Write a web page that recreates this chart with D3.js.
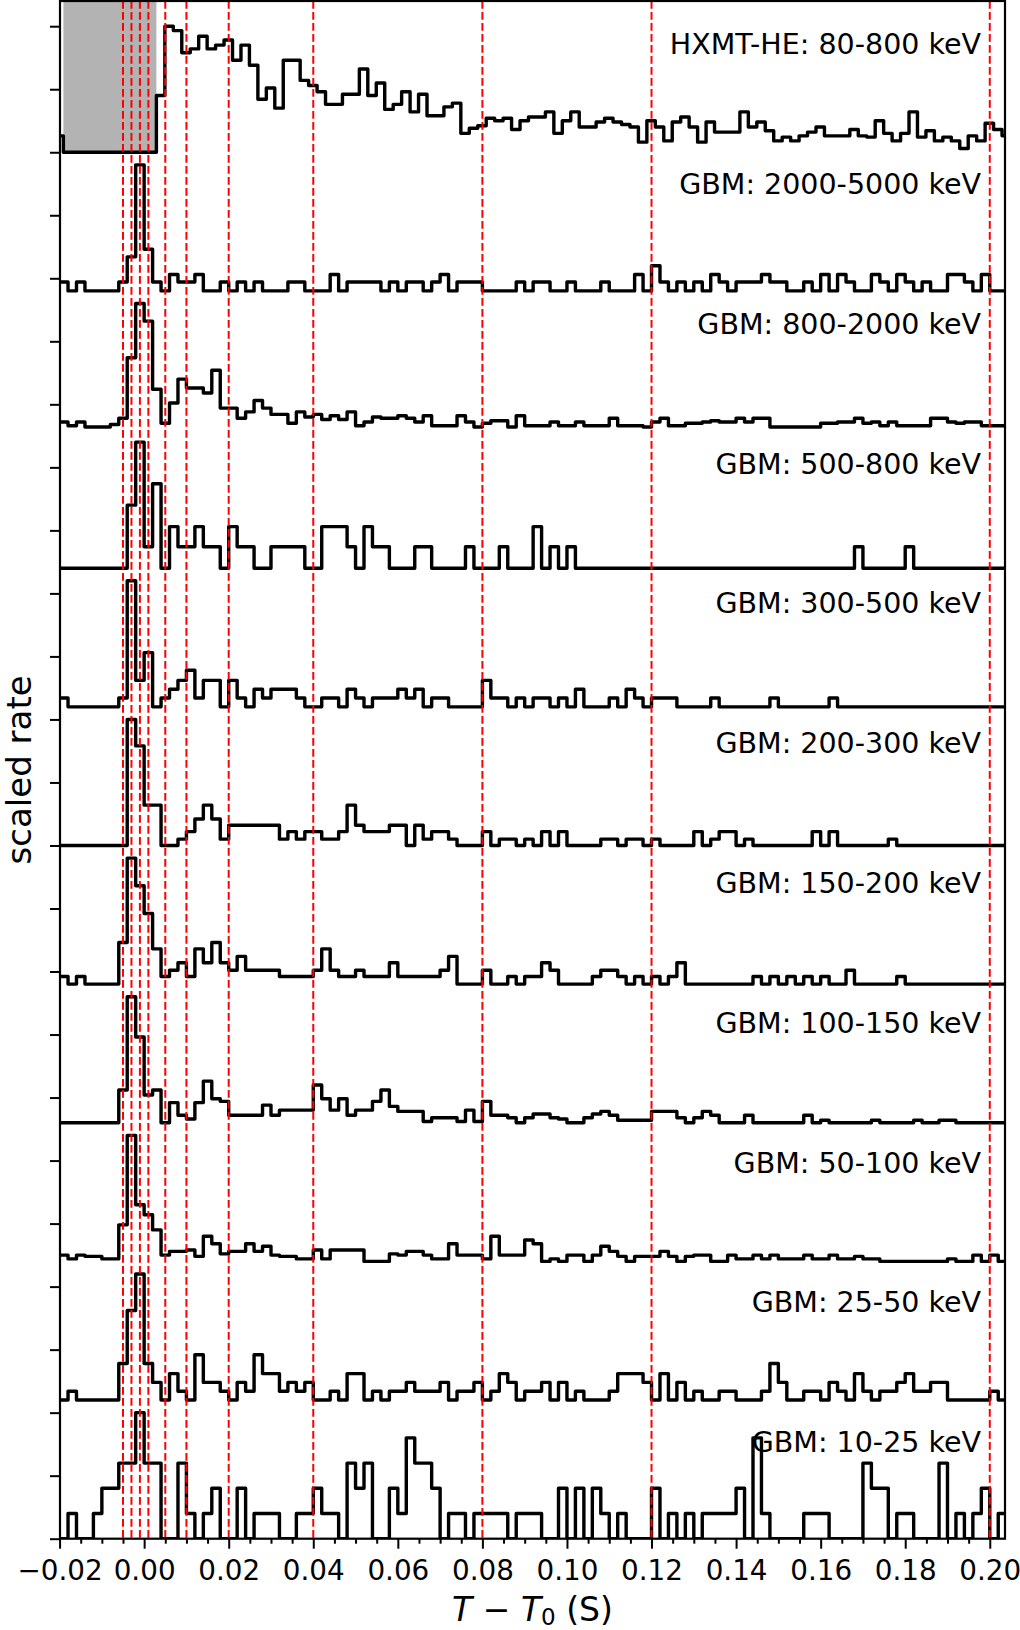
<!DOCTYPE html>
<html>
<head>
<meta charset="utf-8">
<script src="https://cdn.jsdelivr.net/npm/d3@7"></script>
<style>
  body { margin: 0; background: #fff; }
  svg { display: block; }
  text { font-family: "DejaVu Sans", sans-serif; fill: #000; }
</style>
</head>
<body>
<svg id="chart"></svg>
<script>
// scaled rate per 2 ms bin (bottom panel first)
const gbm10to25 = [
  0, 0.2, 0, 0, 0.2, 0.4, 0.4, 0.6, 0.6, 1,
  0.6, 0.6, 0, 0, 0.6, 0.2, 0, 0.2, 0.4, 0,
  0, 0.4, 0, 0.2, 0.2, 0.2, 0, 0, 0.2, 0.2,
  0.4, 0.2, 0.2, 0, 0.6, 0.4, 0.6, 0, 0, 0.4,
  0.2, 0.8, 0.6, 0.6, 0.4, 0, 0.2, 0.2, 0, 0.2,
  0.2, 0.2, 0.2, 0, 0.2, 0.2, 0.2, 0, 0, 0.4,
  0, 0.4, 0, 0.4, 0.2, 0, 0.2, 0, 0, 0,
  0.4, 0, 0.2, 0, 0.2, 0, 0.2, 0.2, 0.2, 0.2,
  0.4, 0, 0.8, 0.2, 0, 0, 0, 0, 0.2, 0.2,
  0.2, 0, 0, 0, 0, 0.6, 0.4, 0.4, 0, 0.2,
  0.2, 0, 0, 0, 0.6, 0, 0.2, 0, 0.2, 0.4,
  0, 0.2
];
const gbm25to50 = [
  0, 0.07, 0, 0, 0, 0, 0, 0.29, 0.71, 1,
  0.29, 0.14, 0, 0.21, 0.07, 0, 0.36, 0.14, 0.14, 0.07,
  0, 0.14, 0.07, 0.36, 0.21, 0.21, 0.07, 0.14, 0.07, 0.14,
  0, 0, 0.07, 0, 0.21, 0.21, 0, 0.07, 0, 0.07,
  0.07, 0.14, 0.07, 0.07, 0.07, 0.14, 0, 0.07, 0.07, 0.14,
  0, 0.07, 0.21, 0.14, 0, 0.07, 0.07, 0.14, 0, 0.14,
  0, 0.07, 0, 0, 0, 0.07, 0.21, 0.21, 0.21, 0.14,
  0, 0.21, 0, 0.14, 0, 0.07, 0, 0, 0.07, 0.07,
  0, 0, 0, 0.07, 0.29, 0.14, 0, 0, 0.07, 0.07,
  0, 0.14, 0.07, 0, 0.21, 0.07, 0, 0.07, 0.07, 0.14,
  0.21, 0.07, 0.07, 0.14, 0.14, 0, 0, 0, 0, 0,
  0.07, 0
];
const gbm50to100 = [
  0.05, 0.02, 0.05, 0.04, 0.04, 0.02, 0.02, 0.29, 1, 0.45,
  0.37, 0.25, 0.05, 0.08, 0.08, 0.09, 0.04, 0.2, 0.14, 0.06,
  0.08, 0.08, 0.14, 0.08, 0.12, 0.05, 0.04, 0.04, 0.02, 0.02,
  0.09, 0.02, 0.09, 0.09, 0.09, 0.09, 0, 0, 0, 0.06,
  0.05, 0.08, 0.08, 0.05, 0.02, 0.02, 0.14, 0.05, 0.05, 0.05,
  0.02, 0.2, 0.05, 0.05, 0.05, 0.17, 0.14, 0, 0.02, 0,
  0.05, 0.05, 0, 0.05, 0.12, 0.08, 0.04, 0, 0.04, 0.04,
  0.04, 0.08, 0.04, 0, 0.04, 0.05, 0.05, 0, 0, 0.05,
  0.02, 0.02, 0.05, 0.02, 0.05, 0.02, 0.02, 0.02, 0.05, 0.02,
  0.02, 0.05, 0.02, 0.02, 0.04, 0.02, 0.02, 0, 0, 0,
  0, 0, 0, 0, 0, 0.02, 0, 0, 0.05, 0,
  0.05, 0
];
const gbm100to150 = [
  0, 0, 0, 0, 0, 0, 0, 0.26, 1, 0.68,
  0.22, 0.26, 0, 0.16, 0.06, 0.03, 0.16, 0.33, 0.19, 0.17,
  0.06, 0.06, 0.06, 0.06, 0.14, 0.06, 0.1, 0.1, 0.1, 0.1,
  0.3, 0.19, 0.1, 0.19, 0.06, 0.1, 0.1, 0.17, 0.26, 0.13,
  0.09, 0.09, 0.09, 0.01, 0.04, 0.04, 0.04, 0.01, 0.1, 0.01,
  0.17, 0.06, 0.06, 0.04, 0, 0.04, 0.07, 0.07, 0.04, 0.03,
  0, 0, 0.04, 0.07, 0.09, 0.06, 0.02, 0.02, 0.02, 0.02,
  0.09, 0.09, 0.09, 0.04, 0, 0.04, 0.09, 0.06, 0, 0,
  0, 0.06, 0, 0, 0, 0, 0, 0, 0.06, 0,
  0.02, 0, 0, 0, 0, 0, 0.02, 0, 0, 0,
  0, 0.02, 0, 0, 0.02, 0.02, 0, 0, 0, 0,
  0, 0
];
const gbm150to200 = [
  0.06, 0, 0.06, 0, 0, 0, 0, 0.33, 1, 0.78,
  0.56, 0.28, 0.06, 0.11, 0.17, 0.06, 0.28, 0.17, 0.33, 0.17,
  0.11, 0.22, 0.11, 0.11, 0.11, 0.11, 0.06, 0.06, 0.06, 0.06,
  0.11, 0.28, 0.11, 0.06, 0.06, 0.11, 0.06, 0.06, 0.06, 0.17,
  0.06, 0.06, 0.06, 0.06, 0.06, 0.11, 0.22, 0, 0, 0,
  0.11, 0, 0, 0.06, 0, 0.06, 0.06, 0.17, 0.11, 0,
  0, 0, 0, 0.06, 0.11, 0.11, 0.06, 0, 0.06, 0,
  0.06, 0, 0.06, 0.17, 0, 0, 0, 0, 0, 0,
  0, 0, 0.06, 0, 0.06, 0, 0.06, 0, 0.06, 0,
  0.06, 0, 0, 0.11, 0, 0, 0, 0, 0, 0.06,
  0, 0, 0, 0, 0, 0, 0, 0, 0, 0,
  0, 0
];
const gbm200to300 = [
  0, 0, 0, 0, 0, 0, 0, 0, 1, 0.79,
  0.32, 0.32, 0, 0, 0.05, 0.11, 0.21, 0.32, 0.21, 0.05,
  0.16, 0.16, 0.16, 0.16, 0.16, 0.16, 0.05, 0.11, 0.05, 0.11,
  0.11, 0.05, 0.05, 0.11, 0.32, 0.16, 0.11, 0.11, 0.11, 0.16,
  0.16, 0, 0.16, 0.05, 0.11, 0.11, 0.05, 0, 0, 0,
  0.11, 0, 0.05, 0.05, 0, 0.05, 0, 0.11, 0, 0.11,
  0, 0, 0, 0, 0.05, 0.05, 0, 0.05, 0.05, 0,
  0.05, 0, 0, 0, 0, 0.11, 0, 0.05, 0.11, 0.11,
  0, 0.05, 0, 0, 0, 0, 0, 0, 0, 0.11,
  0, 0.11, 0, 0, 0, 0, 0, 0, 0.05, 0,
  0, 0, 0, 0, 0, 0, 0, 0, 0, 0,
  0, 0
];
const gbm300to500 = [
  0.07, 0, 0, 0, 0, 0, 0, 0.07, 1, 0.21,
  0.43, 0, 0.07, 0.14, 0.21, 0.29, 0.07, 0.21, 0.21, 0,
  0.21, 0.07, 0, 0.14, 0.07, 0.14, 0.14, 0.14, 0.07, 0,
  0, 0.07, 0.07, 0, 0.14, 0.07, 0, 0.07, 0.07, 0.07,
  0.14, 0.07, 0.14, 0, 0.07, 0.07, 0, 0, 0, 0,
  0.21, 0.07, 0.07, 0, 0.07, 0, 0.07, 0.07, 0, 0.07,
  0, 0.14, 0, 0, 0, 0.07, 0, 0.14, 0.07, 0,
  0.07, 0.07, 0.07, 0, 0, 0, 0, 0.07, 0, 0,
  0, 0, 0, 0, 0.07, 0, 0, 0, 0, 0,
  0, 0.07, 0, 0, 0, 0, 0, 0, 0, 0,
  0, 0, 0, 0, 0, 0, 0, 0, 0, 0,
  0, 0
];
const gbm500to800 = [
  0, 0, 0, 0, 0, 0, 0, 0, 0.5, 1,
  0.17, 0.67, 0, 0.33, 0.17, 0.17, 0.33, 0.17, 0.17, 0,
  0.33, 0.17, 0.17, 0, 0, 0.17, 0.17, 0.17, 0.17, 0,
  0, 0.33, 0.33, 0.33, 0.17, 0, 0.33, 0.17, 0.17, 0,
  0, 0, 0.17, 0.17, 0, 0, 0, 0, 0.17, 0,
  0, 0, 0.17, 0, 0, 0, 0.33, 0, 0.17, 0,
  0.17, 0, 0, 0, 0, 0, 0, 0, 0, 0,
  0, 0, 0, 0, 0, 0, 0, 0, 0, 0,
  0, 0, 0, 0, 0, 0, 0, 0, 0, 0,
  0, 0, 0, 0, 0.17, 0, 0, 0, 0, 0,
  0.17, 0, 0, 0, 0, 0, 0, 0, 0, 0,
  0, 0
];
const gbm800to2000 = [
  0.06, 0.03, 0.06, 0.02, 0.02, 0.02, 0.04, 0.09, 0.57, 1,
  0.86, 0.32, 0.05, 0.21, 0.4, 0.33, 0.33, 0.29, 0.47, 0.17,
  0.17, 0.09, 0.14, 0.23, 0.17, 0.12, 0.12, 0.05, 0.14, 0.1,
  0.12, 0.08, 0.11, 0.08, 0.14, 0.03, 0.06, 0.1, 0.09, 0.09,
  0.11, 0.09, 0.06, 0.11, 0.03, 0.03, 0.03, 0.11, 0.06, 0.02,
  0.05, 0.07, 0.07, 0.02, 0.11, 0.03, 0.03, 0.03, 0.06, 0.03,
  0.03, 0.06, 0.03, 0.03, 0.03, 0.09, 0.03, 0.03, 0.03, 0.02,
  0.06, 0.09, 0.03, 0.03, 0.05, 0.05, 0.06, 0.07, 0.06, 0.06,
  0.09, 0.06, 0.09, 0.09, 0.02, 0.02, 0.02, 0.02, 0.02, 0.02,
  0.05, 0.05, 0.06, 0.06, 0.09, 0.05, 0.06, 0.03, 0.06, 0.03,
  0.03, 0.03, 0.03, 0.09, 0.09, 0.06, 0.05, 0.06, 0.06, 0.03,
  0.03, 0.03
];
const gbm2000to5000 = [
  0.07, 0, 0.07, 0, 0, 0, 0, 0.07, 0.27, 1,
  0.33, 0.07, 0, 0.13, 0.07, 0.07, 0.13, 0, 0, 0.07,
  0, 0.07, 0, 0.07, 0, 0, 0, 0.07, 0.07, 0,
  0, 0, 0.13, 0, 0.07, 0.07, 0.07, 0.07, 0, 0.07,
  0, 0.07, 0.07, 0, 0.07, 0.13, 0, 0.07, 0.07, 0.07,
  0, 0, 0, 0, 0.07, 0, 0.07, 0.07, 0, 0,
  0.07, 0, 0, 0, 0.07, 0, 0, 0, 0.13, 0,
  0.2, 0.07, 0, 0.07, 0, 0.07, 0, 0.13, 0.07, 0,
  0.07, 0.07, 0.07, 0.13, 0.07, 0.07, 0, 0, 0.07, 0,
  0.13, 0, 0.13, 0.07, 0, 0, 0.13, 0.07, 0, 0.13,
  0.07, 0, 0.07, 0, 0, 0.13, 0.13, 0.07, 0, 0.13,
  0, 0
];
const hxmtHE = [
  0.13, 0, 0, 0, 0, 0, 0, 0, 0, 0,
  0, 0, 0.45, 1, 0.965, 0.79, 0.82, 0.92, 0.82, 0.85,
  0.89, 0.73, 0.85, 0.69, 0.42, 0.51, 0.35, 0.73, 0.73, 0.57,
  0.53, 0.48, 0.38, 0.38, 0.46, 0.46, 0.66, 0.45, 0.55, 0.34,
  0.38, 0.48, 0.32, 0.46, 0.29, 0.29, 0.36, 0.39, 0.15, 0.19,
  0.21, 0.27, 0.25, 0.27, 0.18, 0.25, 0.28, 0.28, 0.32, 0.15,
  0.25, 0.32, 0.2, 0.2, 0.24, 0.27, 0.24, 0.22, 0.2, 0.08,
  0.25, 0.2, 0.09, 0.24, 0.28, 0.2, 0.08, 0.24, 0.16, 0.16,
  0.16, 0.32, 0.2, 0.24, 0.17, 0.09, 0.12, 0.09, 0.13, 0.16,
  0.2, 0.13, 0.13, 0.13, 0.18, 0.13, 0.12, 0.25, 0.15, 0.09,
  0.15, 0.32, 0.12, 0.17, 0.09, 0.12, 0.09, 0.03, 0.13, 0.09,
  0.23, 0.18, 0.13
];

const bandLabels = [
  'GBM: 10-25 keV', 'GBM: 25-50 keV', 'GBM: 50-100 keV', 'GBM: 100-150 keV',
  'GBM: 150-200 keV', 'GBM: 200-300 keV', 'GBM: 300-500 keV', 'GBM: 500-800 keV',
  'GBM: 800-2000 keV', 'GBM: 2000-5000 keV', 'HXMT-HE: 80-800 keV'
];
const bandRates = [
  gbm10to25, gbm25to50, gbm50to100, gbm100to150, gbm150to200, gbm200to300,
  gbm300to500, gbm500to800, gbm800to2000, gbm2000to5000, hxmtHE
];
const binStarts = [-0.02, -0.02, -0.02, -0.02, -0.02, -0.02, -0.02, -0.02, -0.02, -0.02, -0.0211];
const binWidth = 0.002;
const eventLines = [-0.005, -0.003, -0.001, 0.001, 0.005, 0.01, 0.02, 0.04, 0.08, 0.12, 0.2];
const hxmtGap = [-0.0191, 0.0029];
const xTickValues = [-0.02, 0, 0.02, 0.04, 0.06, 0.08, 0.1, 0.12, 0.14, 0.16, 0.18, 0.2];
const xMinorValues = d3.range(-0.015, 0.2036, 0.005).filter(v => Math.abs(v / 0.02 - Math.round(v / 0.02)) > 0.01);
const yTickValues = d3.range(0, 12.01, 0.5);

const width = 1020, height = 1630;
const plot = { left: 60, right: 1005, top: 1, bottom: 1538.7 };
const panelStep = 1.1;

const svg = d3.select('#chart').attr('width', width).attr('height', height);

const x = d3.scaleLinear().domain([-0.0199, 0.2036]).range([plot.left, plot.right]);
const y = d3.scaleLinear().domain([0, 12.2]).range([plot.bottom, plot.top]);
const yFrac = d3.scaleLinear().domain([0, 1]).range([plot.bottom, plot.top]);

svg.append('defs').append('clipPath').attr('id', 'plotClip')
  .append('rect')
  .attr('x', plot.left).attr('y', plot.top)
  .attr('width', plot.right - plot.left).attr('height', plot.bottom - plot.top);

const g = svg.append('g').attr('clip-path', 'url(#plotClip)');

// HXMT data gap
g.append('rect')
  .attr('x', x(hxmtGap[0]))
  .attr('y', y(12.2))
  .attr('width', x(hxmtGap[1]) - x(hxmtGap[0]))
  .attr('height', y(10 * panelStep) - y(12.2))
  .attr('fill', '#b3b3b3');

const line = d3.line()
  .x(d => x(d[0]))
  .y(d => y(d[1]))
  .curve(d3.curveStepAfter);

bandRates.forEach((rate, i) => {
  const base = i * panelStep;
  const pts = rate.map((v, k) => [binStarts[i] + k * binWidth, base + v]);
  pts.push([binStarts[i] + rate.length * binWidth, base + rate[rate.length - 1]]);
  g.append('path')
    .attr('d', line(pts))
    .attr('fill', 'none')
    .attr('stroke', '#000')
    .attr('stroke-width', 3.4)
    .attr('stroke-linejoin', 'round');
});

// event times
g.selectAll('line.event')
  .data(eventLines)
  .join('line')
  .attr('class', 'event')
  .attr('x1', d => x(d)).attr('x2', d => x(d))
  .attr('y1', plot.top).attr('y2', plot.bottom)
  .attr('stroke', '#ff0000')
  .attr('stroke-width', 2)
  .attr('stroke-dasharray', '7.7,3.3');

// band labels
svg.append('g')
  .selectAll('text')
  .data(bandLabels)
  .join('text')
  .attr('x', 981)
  .attr('y', (d, i) => yFrac((i + 0.69) / 11) + 10)
  .attr('text-anchor', 'end')
  .style('font-size', '28.5px')
  .text(d => d);

// axes
const yAxis = svg.append('g')
  .attr('transform', `translate(${plot.left},0)`)
  .call(d3.axisLeft(y).tickValues(yTickValues).tickFormat('').tickSize(10));
yAxis.select('.domain').remove();
yAxis.selectAll('line').attr('stroke-width', 2);

const xMinor = svg.append('g')
  .attr('transform', `translate(0,${plot.bottom})`)
  .call(d3.axisBottom(x).tickValues(xMinorValues).tickFormat('').tickSize(5));
xMinor.select('.domain').remove();
xMinor.selectAll('line').attr('stroke-width', 2);

const xAxis = svg.append('g')
  .attr('transform', `translate(0,${plot.bottom})`)
  .call(d3.axisBottom(x).tickValues(xTickValues).tickFormat(d3.format('.2f')).tickSize(10).tickPadding(11.6));
xAxis.select('.domain').remove();
xAxis.selectAll('line').attr('stroke-width', 2);
xAxis.selectAll('text')
  .style('font-size', '27.8px')
  .style('font-family', '"DejaVu Sans", sans-serif')
  .attr('fill', '#000');

// frame
svg.append('rect')
  .attr('x', plot.left).attr('y', plot.top)
  .attr('width', plot.right - plot.left).attr('height', plot.bottom - plot.top)
  .attr('fill', 'none')
  .attr('stroke', '#000')
  .attr('stroke-width', 2.2);

// axis titles
const xt = svg.append('text')
  .attr('x', (plot.left + plot.right) / 2)
  .attr('y', 1621)
  .attr('text-anchor', 'middle')
  .style('font-size', '33px');
xt.append('tspan').style('font-style', 'italic').text('T');
xt.append('tspan').text(' \u2212 ');
xt.append('tspan').style('font-style', 'italic').text('T');
xt.append('tspan').style('font-size', '23px').attr('dy', 4).text('0');
xt.append('tspan').attr('dy', -4).text(' (S)');

svg.append('text')
  .attr('transform', `translate(31,${(plot.top + plot.bottom) / 2}) rotate(-90)`)
  .attr('text-anchor', 'middle')
  .style('font-size', '34px')
  .text('scaled rate');
</script>
</body>
</html>
